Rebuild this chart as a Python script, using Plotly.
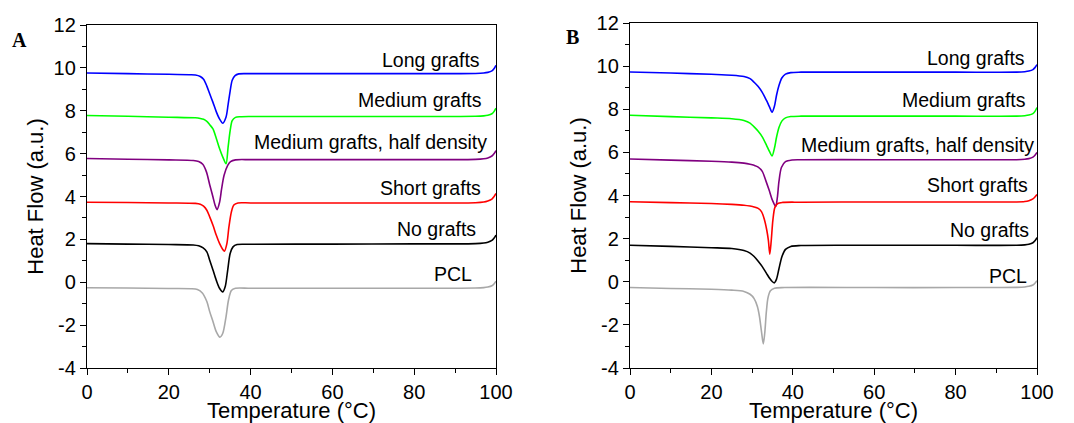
import plotly.graph_objects as go

# ---------------- data ----------------
labels = ["Long grafts", "Medium grafts", "Medium grafts, half density",
          "Short grafts", "No grafts", "PCL"]
colors = ["#0000FF", "#00FF00", "#800080", "#FF0000", "#000000", "#A8A8A8"]

# Panel A
a_long_x = [0, 10, 20, 25, 26.5, 27.7, 28.5, 29.3, 30.0, 30.8, 31.6, 32.4, 33.2, 34.0, 34.5, 35.0, 35.5, 36.2, 37.1, 40, 60, 80, 95, 97, 98, 99, 99.5, 100]
a_long_y = [9.76, 9.73, 9.70, 9.68, 9.67, 9.60, 9.47, 9.15, 8.79, 8.39, 7.96, 7.62, 7.42, 7.71, 8.29, 8.92, 9.42, 9.64, 9.72, 9.73, 9.73, 9.73, 9.74, 9.76, 9.79, 9.86, 9.96, 10.12]
a_med_x = [0, 10, 20, 26.5, 27.7, 28.5, 29.3, 30.0, 30.8, 31.6, 32.4, 33.2, 34.0, 34.5, 35.0, 35.5, 36.3, 37.5, 40, 60, 80, 95, 97, 98, 99, 99.5, 100]
a_med_y = [7.78, 7.74, 7.70, 7.67, 7.64, 7.60, 7.50, 7.35, 7.15, 6.72, 6.24, 5.84, 5.53, 6.30, 7.07, 7.54, 7.69, 7.72, 7.73, 7.73, 7.73, 7.74, 7.76, 7.79, 7.86, 7.96, 8.12]
a_half_x = [0, 10, 20, 26, 27.3, 28.3, 29.2, 30.0, 30.8, 31.3, 31.8, 32.4, 32.9, 33.5, 34.4, 35.1, 36.3, 40, 60, 80, 95, 97, 98, 99, 99.5, 100]
a_half_y = [5.77, 5.74, 5.71, 5.68, 5.63, 5.50, 5.15, 4.55, 3.98, 3.60, 3.39, 3.72, 4.34, 4.98, 5.45, 5.63, 5.71, 5.72, 5.72, 5.72, 5.73, 5.76, 5.80, 5.89, 5.99, 6.14]
a_short_x = [0, 10, 20, 26.5, 27.7, 28.5, 29.3, 30.0, 30.8, 31.6, 32.4, 33.2, 33.6, 34.2, 34.7, 35.3, 35.9, 36.9, 40, 60, 80, 95, 97, 98, 99, 99.5, 100]
a_short_y = [3.73, 3.72, 3.70, 3.68, 3.64, 3.55, 3.36, 3.05, 2.66, 2.20, 1.81, 1.53, 1.45, 1.80, 2.58, 3.28, 3.60, 3.70, 3.70, 3.70, 3.70, 3.71, 3.74, 3.79, 3.88, 3.99, 4.14]
a_none_x = [0, 10, 20, 26, 27.3, 28.4, 29.3, 30.0, 30.8, 31.6, 32.4, 33.2, 33.8, 34.4, 35.0, 35.7, 36.7, 40, 60, 80, 95, 97, 98, 99, 99.5, 100]
a_none_y = [1.80, 1.78, 1.76, 1.74, 1.70, 1.60, 1.42, 1.03, 0.57, 0.10, -0.28, -0.45, -0.20, 0.57, 1.34, 1.65, 1.76, 1.77, 1.78, 1.79, 1.80, 1.83, 1.87, 1.95, 2.05, 2.20]
a_pcl_x = [0, 10, 20, 25.5, 27.0, 28.2, 29.3, 30.0, 30.8, 31.6, 32.5, 33.2, 34.0, 34.6, 35.3, 36.3, 40, 60, 80, 95, 97, 98, 99, 99.5, 100]
a_pcl_y = [-0.26, -0.27, -0.29, -0.30, -0.34, -0.50, -0.90, -1.37, -1.83, -2.30, -2.56, -2.38, -1.60, -0.83, -0.39, -0.28, -0.28, -0.28, -0.28, -0.27, -0.25, -0.22, -0.16, -0.08, 0.05]

# Panel B
b_long_x = [0, 10, 20, 25, 28, 29.5, 30.5, 31.5, 32.5, 33.5, 34.3, 34.9, 35.5, 36.0, 36.6, 37.3, 38.2, 39.5, 42, 60, 80, 95, 97, 98, 99, 99.5, 100]
b_long_y = [9.73, 9.68, 9.62, 9.58, 9.52, 9.42, 9.25, 9.05, 8.78, 8.42, 8.10, 7.86, 8.15, 8.65, 9.10, 9.45, 9.63, 9.70, 9.72, 9.72, 9.72, 9.72, 9.74, 9.77, 9.84, 9.93, 10.07]
b_med_x = [0, 10, 20, 25, 28, 29.5, 30.5, 31.5, 32.5, 33.5, 34.3, 34.9, 35.5, 36.0, 36.6, 37.3, 38.2, 39.5, 42, 60, 80, 95, 97, 98, 99, 99.5, 100]
b_med_y = [7.72, 7.66, 7.60, 7.56, 7.48, 7.36, 7.18, 6.98, 6.72, 6.35, 6.03, 5.83, 6.20, 6.70, 7.15, 7.45, 7.60, 7.66, 7.68, 7.68, 7.68, 7.68, 7.70, 7.73, 7.80, 7.90, 8.08]
b_half_x = [0, 10, 20, 25, 28, 29.5, 30.5, 31.5, 32.5, 33.5, 34.2, 35.0, 35.8, 36.2, 36.6, 37.2, 38.2, 39.8, 42, 60, 80, 95, 97, 98, 99, 99.5, 100]
b_half_y = [5.69, 5.64, 5.59, 5.55, 5.50, 5.45, 5.40, 5.32, 5.12, 4.62, 4.24, 3.78, 3.49, 3.90, 4.65, 5.30, 5.57, 5.65, 5.66, 5.66, 5.66, 5.66, 5.68, 5.71, 5.78, 5.87, 6.00]
b_short_x = [0, 10, 20, 25, 28, 29.5, 30.5, 31.5, 32.3, 33.0, 33.6, 34.0, 34.35, 34.7, 35.1, 35.6, 36.3, 37.5, 42, 60, 80, 95, 97, 98, 99, 99.5, 100]
b_short_y = [3.71, 3.67, 3.63, 3.59, 3.55, 3.51, 3.47, 3.40, 3.25, 2.90, 2.40, 1.92, 1.28, 1.90, 2.85, 3.45, 3.63, 3.68, 3.69, 3.70, 3.70, 3.70, 3.72, 3.76, 3.84, 3.93, 4.05]
b_none_x = [0, 10, 20, 25, 28, 29.5, 30.5, 31.5, 32.5, 33.5, 34.3, 35.0, 35.5, 36.0, 36.6, 37.3, 38.2, 39.5, 42, 60, 80, 95, 97, 98, 99, 99.5, 100]
b_none_y = [1.69, 1.64, 1.58, 1.54, 1.45, 1.33, 1.17, 0.95, 0.70, 0.40, 0.16, 0.00, -0.05, 0.12, 0.60, 1.15, 1.50, 1.64, 1.68, 1.69, 1.69, 1.69, 1.71, 1.74, 1.81, 1.90, 2.05]
b_pcl_x = [0, 10, 20, 25, 28, 29.5, 30.5, 31.3, 31.8, 32.3, 32.75, 33.1, 33.5, 33.9, 34.5, 35.5, 38, 60, 80, 95, 97, 98, 99, 99.5, 100]
b_pcl_y = [-0.27, -0.31, -0.35, -0.39, -0.45, -0.58, -0.78, -1.15, -1.60, -2.30, -2.88, -2.40, -1.40, -0.75, -0.42, -0.30, -0.27, -0.27, -0.27, -0.26, -0.24, -0.21, -0.15, -0.07, 0.05]

panel_a = [(a_long_x, a_long_y), (a_med_x, a_med_y), (a_half_x, a_half_y),
           (a_short_x, a_short_y), (a_none_x, a_none_y), (a_pcl_x, a_pcl_y)]
panel_b = [(b_long_x, b_long_y), (b_med_x, b_med_y), (b_half_x, b_half_y),
           (b_short_x, b_short_y), (b_none_x, b_none_y), (b_pcl_x, b_pcl_y)]

x_ticks = [0, 20, 40, 60, 80, 100]
x_ticktext = ["0", "20", "40", "60", "80", "100"]
y_ticks = [-4, -2, 0, 2, 4, 6, 8, 10, 12]
y_ticktext = ["-4", "-2", "0", "2", "4", "6", "8", "10", "12"]
x_title = "Temperature (°C)"
y_title = "Heat Flow (a.u.)"
panel_letters = ["A", "B"]

# ---------------- figure ----------------
W, H = 1074, 423
fig = go.Figure()

for i, (xs, ys) in enumerate(panel_a):
    fig.add_trace(go.Scatter(x=xs, y=ys, mode="lines", xaxis="x", yaxis="y",
                             line=dict(color=colors[i], width=1.6, shape="spline", smoothing=0.8),
                             showlegend=False, hoverinfo="skip"))
for i, (xs, ys) in enumerate(panel_b):
    fig.add_trace(go.Scatter(x=xs, y=ys, mode="lines", xaxis="x2", yaxis="y2",
                             line=dict(color=colors[i], width=1.6, shape="spline", smoothing=0.8),
                             showlegend=False, hoverinfo="skip"))

tickfont = dict(family="Liberation Sans, Arial, sans-serif", size=20, color="black")
titlefont = dict(family="Liberation Sans, Arial, sans-serif", size=22, color="black")


def xax(domain, anchor):
    return dict(domain=domain, anchor=anchor, range=[0, 100],
                tickmode="array", tickvals=x_ticks, ticktext=x_ticktext,
                ticks="outside", ticklen=6, tickwidth=1.3, tickcolor="black",
                minor=dict(dtick=10, ticks="outside", ticklen=3.5, tickwidth=1.2, tickcolor="black"),
                showline=True, linecolor="black", linewidth=1.3, mirror=True,
                showgrid=False, zeroline=False, tickfont=tickfont,
                title=dict(text=x_title, font=titlefont, standoff=2))


def yax(domain, anchor):
    return dict(domain=domain, anchor=anchor, range=[-4, 12],
                tickmode="array", tickvals=y_ticks, ticktext=y_ticktext,
                ticks="outside", ticklen=6, tickwidth=1.3, tickcolor="black",
                minor=dict(dtick=1, ticks="outside", ticklen=3.5, tickwidth=1.2, tickcolor="black"),
                showline=True, linecolor="black", linewidth=1.3, mirror=True,
                showgrid=False, zeroline=False, tickfont=tickfont,
                title=dict(text=y_title, font=titlefont, standoff=3))


fig.update_layout(
    width=W, height=H, autosize=False,
    margin=dict(l=0, r=0, t=0, b=0, autoexpand=False),
    paper_bgcolor="white", plot_bgcolor="white",
    xaxis=xax([87 / W, 496 / W], "y"),
    yaxis=yax([1 - 368 / H, 1 - 25 / H], "x"),
    xaxis2=xax([630 / W, 1037 / W], "y2"),
    yaxis2=yax([1 - 368 / H, 1 - 23 / H], "x2"),
)

label_font = dict(family="Liberation Sans, Arial, sans-serif", size=19.5, color="black")
a_lab_pos = [(96.6, 10.37), (97.1, 8.5), (98.3, 6.54), (96.8, 4.39), (95.6, 2.48), (94.6, 0.37)]
b_lab_pos = [(97.6, 10.36), (97.9, 8.41), (99.8, 6.33), (98.3, 4.47), (98.5, 2.38), (98.1, 0.29)]
for i, txt in enumerate(labels):
    fig.add_annotation(x=a_lab_pos[i][0], y=a_lab_pos[i][1], xref="x", yref="y", text=txt,
                       showarrow=False, xanchor="right", yanchor="middle", font=label_font)
    fig.add_annotation(x=b_lab_pos[i][0], y=b_lab_pos[i][1], xref="x2", yref="y2", text=txt,
                       showarrow=False, xanchor="right", yanchor="middle", font=label_font)

letter_font = dict(family="Liberation Serif, Times New Roman, serif", size=20, color="black")
for txt, px, py in zip(panel_letters, [19.5, 572.5], [40, 37]):
    fig.add_annotation(x=px / W, y=1 - py / H, xref="paper", yref="paper", text="<b>%s</b>" % txt,
                       showarrow=False, xanchor="center", yanchor="middle", font=letter_font)

fig.write_html("out.html", config={"displayModeBar": False},
               post_script="document.body.style.margin='0px';document.body.style.overflow='hidden';")
